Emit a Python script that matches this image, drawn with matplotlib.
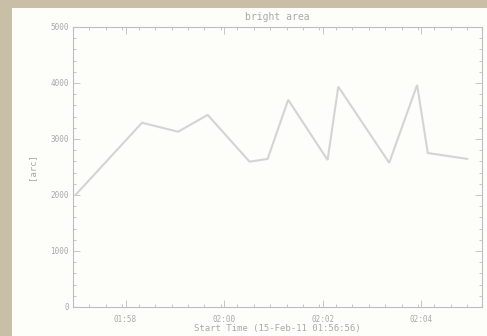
import matplotlib
matplotlib.use("Agg")
import matplotlib.pyplot as plt
from matplotlib.ticker import MultipleLocator

# data: seconds after start time (15-Feb-11 01:56:56)
t_sec = [3, 84, 128, 164, 215, 237, 262, 310, 323, 385, 419, 432, 480]
area = [2000, 3290, 3130, 3430, 2595, 2645, 3700, 2625, 3935, 2575, 3965, 2750, 2645]

xtick_pos = [64, 184, 304, 424]
xtick_labels = ["01:58", "02:00", "02:02", "02:04"]
ytick_vals = [0, 1000, 2000, 3000, 4000, 5000]

title = "bright area"
xlabel = "Start Time (15-Feb-11 01:56:56)"
ylabel = "[arc]"

plt.rcParams["font.family"] = ["DejaVu Sans Mono", "DejaVu Sans"]

fig = plt.figure(figsize=(4.87, 3.36), dpi=100)
fig.patch.set_facecolor("#c9bfa7")
bg = fig.add_axes([12 / 487, 0, 1 - 12 / 487, 1 - 8 / 336], zorder=-5)
bg.set_facecolor("#fdfdf9")
bg.set_xticks([])
bg.set_yticks([])
for s in bg.spines.values():
    s.set_visible(False)

ax = fig.add_axes([73 / 487, 29 / 336, (482 - 73) / 487, (307 - 27) / 336], zorder=1)
ax.set_facecolor("#fdfdf9")
gray = "#bdbdbd"
tc = "#a9a9a9"

ax.plot(t_sec, area, color="#d4d4d4", lw=1.5, solid_joinstyle="miter")
ax.set_xlim(0, 498)
ax.set_ylim(0, 5000)
ax.set_xticks(xtick_pos)
ax.set_xticklabels(xtick_labels)
ax.set_yticks(ytick_vals)
ax.set_yticklabels([str(v) for v in ytick_vals])
ax.xaxis.set_minor_locator(MultipleLocator(20))
ax.yaxis.set_minor_locator(MultipleLocator(200))
ax.tick_params(which="both", direction="in", top=True, right=True, colors=gray,
               labelcolor=tc, labelsize=5.5, width=0.6)
ax.tick_params(which="major", length=5)
ax.tick_params(which="minor", length=2.5)
ax.tick_params(axis="x", pad=6)
ax.tick_params(axis="y", pad=3)
for s in ax.spines.values():
    s.set_color(gray)
    s.set_linewidth(0.8)

ax.set_title(title, color=tc, fontsize=7, pad=5)
ax.set_xlabel(xlabel, color=tc, fontsize=6.5, labelpad=0)
ax.set_ylabel(ylabel, color=tc, fontsize=6.5, labelpad=10)

fig.savefig("out.png", dpi=100, facecolor=fig.get_facecolor())
